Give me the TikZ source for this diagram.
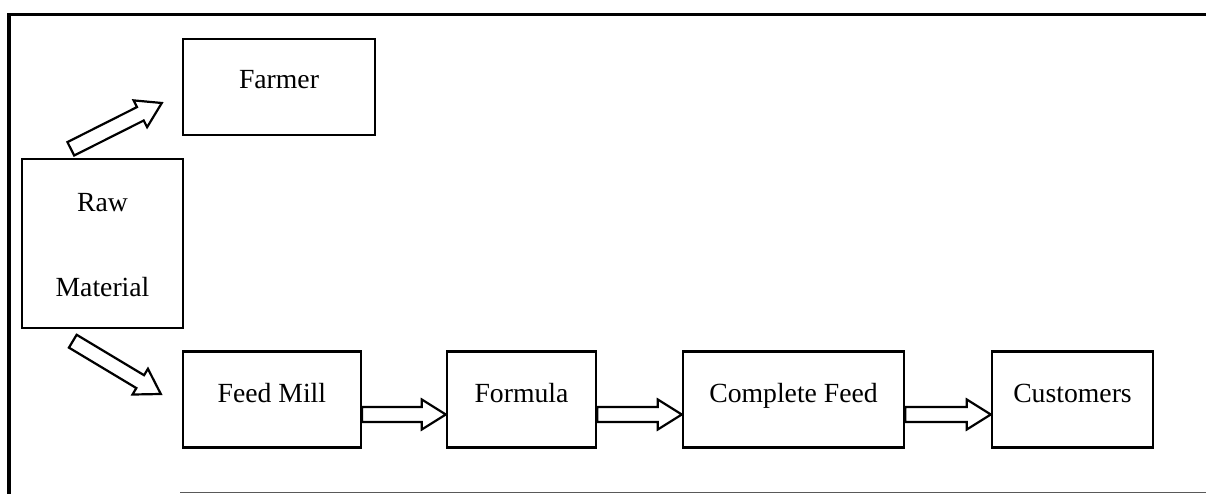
\documentclass[tikz,border=0pt]{standalone}
\usepackage{fontspec}
\setmainfont{Liberation Serif}
\usetikzlibrary{calc}

\tikzset{
  boxnode/.style={draw, line width=2.4pt, rectangle, inner sep=0pt,
    font=\fontsize{27.7}{33}\selectfont, text height=20pt, text depth=14.5pt},
  labeltext/.style={font=\fontsize{27.7}{33}\selectfont, inner sep=0pt, anchor=base},
  hollowarrow/.style={draw, line width=2.2pt, line join=miter, fill=white},
  frameline/.style={line width=3.8pt},
}

% hollow block arrow from #1 (tail centre) to #2 (tip)
\newcommand\blockarrow[2]{%
  \path[hollowarrow]
    ($(#1)!7.5pt!-90:(#2)$)
    -- ($($(#2)!24pt!(#1)$)!7.5pt!90:(#1)$)
    -- ($($(#2)!24pt!(#1)$)!15pt!90:(#1)$)
    -- (#2)
    -- ($($(#2)!24pt!(#1)$)!15pt!-90:(#1)$)
    -- ($($(#2)!24pt!(#1)$)!7.5pt!-90:(#1)$)
    -- ($(#1)!7.5pt!90:(#2)$)
    -- cycle;%
}

\begin{document}
\begin{tikzpicture}[x=1pt, y=-1pt]
  \useasboundingbox (0,0) rectangle (1206,494);

  % page frame
  \draw[frameline] (9,494) -- (9,14.5) -- (1206,14.5);
  \draw[black!65, line width=1.4pt] (180,492.5) -- (1206,492.5);

  % boxes
  \node[boxnode, minimum width=192pt, minimum height=96pt, text depth=16pt]
    (farmer) at (279,87) {Farmer};
  \node[boxnode, minimum width=161pt, minimum height=169pt]
    (raw) at (102.5,243.5) {};
  \node[labeltext] (rawtop) at ($(raw.center)+(0,-31.8)$) {Raw};
  \node[labeltext] (rawbottom) at ($(raw.center)+(0,53.2)$) {Material};
  \node[boxnode, minimum width=177.7pt, minimum height=96pt]
    (feedmill) at (271.85,399.5) {Feed Mill};
  \node[boxnode, minimum width=149pt, minimum height=96pt]
    (formula) at (521.5,399.5) {Formula};
  \node[boxnode, minimum width=221pt, minimum height=96pt]
    (complete) at (793.5,399.5) {Complete Feed};
  \node[boxnode, minimum width=161pt, minimum height=96pt]
    (customers) at (1072.5,399.5) {Customers};

  % arrow ends
  \coordinate (upTail)   at ($(raw.north west)+(50,-9)$);
  \coordinate (upTip)    at ($(farmer.west)+(-20,16)$);
  \coordinate (downTail) at ($(raw.south west)+(52,12)$);
  \coordinate (downTip)  at ($(feedmill.west)+(-21,-5.5)$);
  \coordinate (a1Tail) at ($(feedmill.east)+(0,15)$);
  \coordinate (a1Tip)  at ($(formula.west)+(0,15)$);
  \coordinate (a2Tail) at ($(formula.east)+(0,15)$);
  \coordinate (a2Tip)  at ($(complete.west)+(0,15)$);
  \coordinate (a3Tail) at ($(complete.east)+(0,15)$);
  \coordinate (a3Tip)  at ($(customers.west)+(0,15)$);

  % connectors
  \blockarrow{upTail}{upTip}
  \blockarrow{downTail}{downTip}
  \blockarrow{a1Tail}{a1Tip}
  \blockarrow{a2Tail}{a2Tip}
  \blockarrow{a3Tail}{a3Tip}
\end{tikzpicture}
\end{document}
